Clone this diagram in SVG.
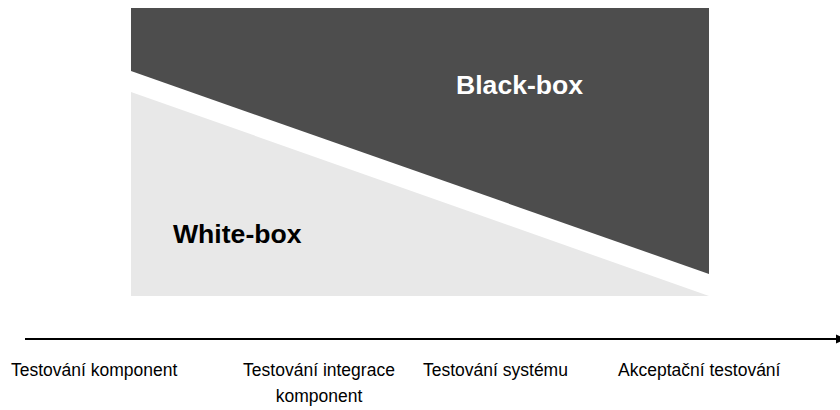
<svg xmlns="http://www.w3.org/2000/svg" width="840" height="410" viewBox="0 0 840 410">
<style>
.big{font-family:"Liberation Sans",Arial,sans-serif;font-weight:bold;font-size:26.6px}
.lbl{font-family:"Liberation Sans",Arial,sans-serif;font-size:17.5px;fill:#000}
</style>
<rect width="840" height="410" fill="#fff"/>
<g id="black-box">
<polygon points="131,8 709,8 709,274 131,71" fill="#4d4d4d"/>
<text class="big" x="456" y="94" fill="#fff">Black-box</text>
</g>
<g id="white-box">
<polygon points="131,92 709,296 131,296" fill="#e8e8e8"/>
<text class="big" x="173" y="243" fill="#000">White-box</text>
</g>
<g id="connectors">
<line x1="25" y1="339" x2="838" y2="339" stroke="#000" stroke-width="2"/>
<polygon points="836,334.5 846,339 836,343.5" fill="#000"/>
</g>
<g id="stage1"><text class="lbl" x="11" y="375.5">Testování komponent</text></g>
<g id="stage2"><text class="lbl" x="319" y="375.5" text-anchor="middle">Testování integrace</text><text class="lbl" x="319" y="402" text-anchor="middle">komponent</text></g>
<g id="stage3"><text class="lbl" x="423" y="375.5">Testování systému</text></g>
<g id="stage4"><text class="lbl" x="618" y="375.5">Akceptační testování</text></g>
</svg>
